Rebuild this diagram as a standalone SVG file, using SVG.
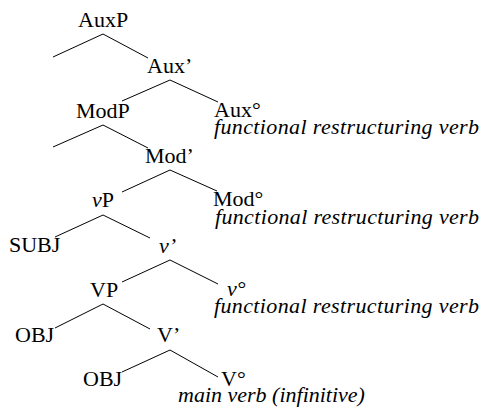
<svg xmlns="http://www.w3.org/2000/svg" width="482" height="412" viewBox="0 0 482 412">
  <style>
    text { font-family: "Liberation Serif", "Times New Roman", "DejaVu Serif", serif; font-size: 22px; fill: #000; }
    .it { font-style: italic; }
    .branch { stroke: #000; stroke-width: 1; fill: none; }
  </style>
  <rect width="482" height="412" fill="#fff"/>

  <!-- tree branches: each polyline joins a mother node to its two daughters -->
  <g id="connectors">
    <polyline class="branch" points="53,57 103,34 148,58"/>
    <polyline class="branch" points="122,101 170,80 218,102"/>
    <polyline class="branch" points="53,147 103,125 148,148"/>
    <polyline class="branch" points="122,192 170,170 217,191"/>
    <polyline class="branch" points="55,237 103,215 150,238"/>
    <polyline class="branch" points="122,282 170,260 218,284"/>
    <polyline class="branch" points="55,328 103,304 150,329"/>
    <polyline class="branch" points="122,372 170,350 218,377"/>
  </g>

  <g id="AuxP" font-family="Liberation Serif, serif"><text x="78" y="27">AuxP</text></g>
  <g id="AuxBar" font-family="Liberation Serif, serif"><text x="147" y="73">Aux’</text></g>
  <g id="ModP" font-family="Liberation Serif, serif"><text x="76" y="118">ModP</text></g>
  <g id="AuxHead" font-family="Liberation Serif, serif">
    <text x="214" y="117">Aux°</text>
    <text class="it" x="214" y="134" textLength="265" lengthAdjust="spacing">functional restructuring verb</text>
  </g>
  <g id="ModBar" font-family="Liberation Serif, serif"><text x="145" y="163">Mod’</text></g>
  <g id="vP" font-family="Liberation Serif, serif"><text x="92" y="207"><tspan class="it">v</tspan>P</text></g>
  <g id="ModHead" font-family="Liberation Serif, serif">
    <text x="213" y="206">Mod°</text>
    <text class="it" x="215" y="224" textLength="264" lengthAdjust="spacing">functional restructuring verb</text>
  </g>
  <g id="SUBJ" font-family="Liberation Serif, serif"><text x="9" y="252">SUBJ</text></g>
  <g id="vBar" font-family="Liberation Serif, serif"><text class="it" x="159" y="253">v’</text></g>
  <g id="VP" font-family="Liberation Serif, serif"><text x="90" y="297">VP</text></g>
  <g id="vHead" font-family="Liberation Serif, serif">
    <text class="it" x="227" y="296">v°</text>
    <text class="it" x="214" y="313" textLength="265" lengthAdjust="spacing">functional restructuring verb</text>
  </g>
  <g id="OBJ1" font-family="Liberation Serif, serif"><text x="15" y="342">OBJ</text></g>
  <g id="VBar" font-family="Liberation Serif, serif"><text x="157" y="342">V’</text></g>
  <g id="OBJ2" font-family="Liberation Serif, serif"><text x="83" y="386">OBJ</text></g>
  <g id="VHead" font-family="Liberation Serif, serif">
    <text x="221" y="386">V°</text>
    <text class="it" x="178" y="402">main verb (infinitive)</text>
  </g>
</svg>
